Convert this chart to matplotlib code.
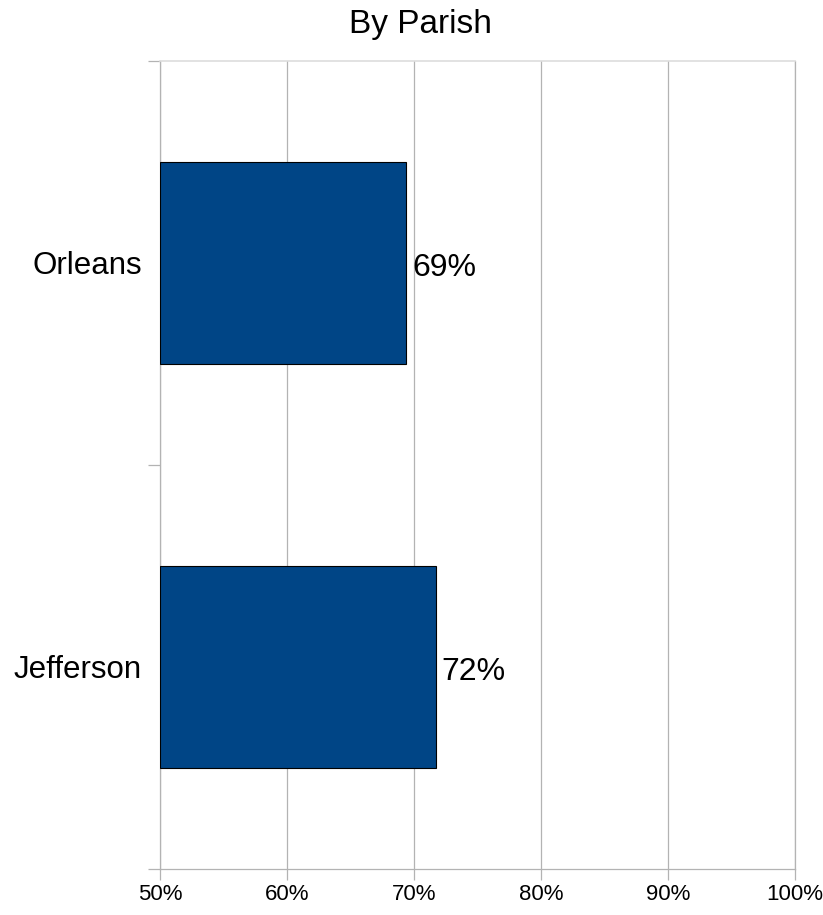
import matplotlib
matplotlib.use("Agg")
import matplotlib.pyplot as plt
from matplotlib.ticker import FixedLocator, FuncFormatter

categories = ["Orleans", "Jefferson"]
values = [69.4, 71.7]
labels = ["69%", "72%"]
xticks = [50, 60, 70, 80, 90, 100]

plt.rcParams['font.family'] = ['Liberation Sans', 'DejaVu Sans']

fig = plt.figure(figsize=(8.23, 9.15), dpi=100)
ax = fig.add_axes([160/823, 1-869/915, (795-160)/823, (869-61)/915])

pos = list(range(len(categories)))
bars = ax.barh(pos, [v - 50 for v in values], left=50, height=0.5,
               color="#004586", edgecolor="black", linewidth=0.8, zorder=3)
for b, lab in zip(bars, labels):
    ax.text(b.get_x() + b.get_width() + 0.45, b.get_y() + b.get_height()/2 + 0.012, lab,
            va="center", ha="left", fontsize=23, color="black", zorder=4)

ax.set_xlim(50, 100)
ax.set_ylim(len(categories) - 0.5, -0.5)
ax.set_xticks(xticks)
ax.xaxis.set_major_formatter(FuncFormatter(lambda v, p: f"{int(v)}%"))
ax.grid(axis="x", color="#b3b3b3", linewidth=0.9, zorder=0)

ax.yaxis.set_major_locator(FixedLocator([p - 0.5 for p in pos] + [pos[-1] + 0.5]))
ax.yaxis.set_major_formatter(FuncFormatter(lambda v, p: ""))
ax.yaxis.set_minor_locator(FixedLocator(pos))
ax.set_yticklabels(categories, minor=True)
ax.tick_params(axis="y", which="major", length=9, color="#b3b3b3", width=0.9)
ax.tick_params(axis="y", which="minor", length=0, pad=13, labelsize=22.5)
ax.tick_params(axis="x", length=8, color="#b3b3b3", width=0.9, labelsize=16, pad=3)

for s in ["left", "bottom", "right"]:
    ax.spines[s].set_color("#b3b3b3")
    ax.spines[s].set_linewidth(0.9)
ax.spines["top"].set_color("#dddddd")
ax.spines["top"].set_linewidth(1.2)

fig.text(0.5 + (420-411.5)/823, 1 - 24/915, "By Parish", ha="center", va="center", fontsize=24)

fig.savefig("out.png", dpi=100)
